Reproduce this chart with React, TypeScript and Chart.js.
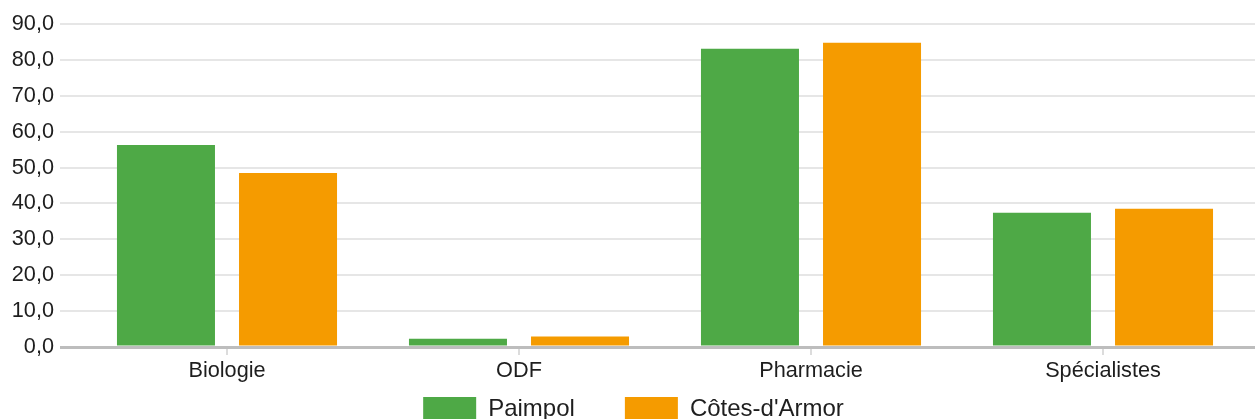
import React, { useEffect, useRef } from "react";
import { Chart, registerables } from "chart.js";

Chart.register(...registerables);

const categories = ["Biologie", "ODF", "Pharmacie", "Spécialistes"];
const seriesNames = ["Paimpol", "Côtes-d'Armor"];
const paimpolValues = [56.3, 2.3, 83.1, 37.4];
const cotesArmorValues = [48.5, 2.9, 84.8, 38.5];
const yMin = 0;
const yMax = 90;
const yStep = 10;

const GREEN = "#4ea946";
const ORANGE = "#f59b00";
const TEXT = "#1e1e1e";
const FONT = "'Liberation Sans', Arial, sans-serif";

const fmt = (v: number) => Number(v).toFixed(1).replace(".", ",");
const gridColor = (ctx: any) => (ctx.tick && ctx.tick.value === 0 ? "#bdbdbd" : "#e6e6e6");
const gridWidth = (ctx: any) => (ctx.tick && ctx.tick.value === 0 ? 3 : 2);

const X_AXIS_HEIGHT = 40;

// widen the label clipping areas of the axes after layout
const labelAreas = {
  id: "labelAreas",
  beforeDraw(chart: any) {
    const x = chart.scales.x;
    if (x) {
      x.bottom = x.top + X_AXIS_HEIGHT;
      x.height = X_AXIS_HEIGHT;
    }
    const y = chart.scales.y;
    if (y) {
      y.left = 0;
      y.width = y.right;
    }
  },
};

export default function App() {
  const ref = useRef<HTMLCanvasElement | null>(null);
  useEffect(() => {
    if (!ref.current) return;
    const chart = new Chart(ref.current, {
      type: "bar",
      data: {
        labels: categories,
        datasets: [
          { label: seriesNames[0], data: paimpolValues, backgroundColor: GREEN, borderWidth: 0 },
          { label: seriesNames[1], data: cotesArmorValues, backgroundColor: ORANGE, borderWidth: 0 },
        ],
      },
      plugins: [labelAreas],
      options: {
        responsive: false,
        animation: false,
        devicePixelRatio: 1,
        layout: { padding: { top: 24, left: 12, right: 0, bottom: 0 } },
        datasets: { bar: { categoryPercentage: 0.836, barPercentage: 0.803 } },
        plugins: {
          tooltip: { enabled: false },
          legend: {
            position: "bottom",
            labels: {
              boxWidth: 53,
              boxHeight: 24,
              padding: 50,
              color: TEXT,
              font: { family: FONT, size: 24 },
            },
          },
        },
        scales: {
          x: {
            offset: true,
            grid: {
              offset: false,
              drawOnChartArea: false,
              drawTicks: true,
              tickLength: 8,
              color: "#dcdcdc",
              lineWidth: 2,
            },
            border: { display: false },
            ticks: { color: TEXT, font: { family: FONT, size: 21.7 }, padding: 3, maxRotation: 0, autoSkip: false },
            afterFit: (scale: any) => {
              scale.height = 0;
            },
          },
          y: {
            min: yMin,
            max: yMax,
            position: "left",
            grid: { color: gridColor, lineWidth: gridWidth, tickLength: 21 },
            border: { display: false },
            ticks: {
              stepSize: yStep,
              color: TEXT,
              padding: 6,
              font: { family: FONT, size: 21.7 },
              callback: (v: any) => fmt(v),
            },
            afterFit: (scale: any) => {
              scale.width = 69;
            },
          },
          y2: {
            min: yMin,
            max: yMax,
            position: "right",
            grid: { color: gridColor, lineWidth: gridWidth, tickLength: 6, drawOnChartArea: false },
            border: { display: false },
            ticks: { stepSize: yStep, display: false },
            afterFit: (scale: any) => {
              scale.width = 6;
            },
          },
        },
      },
    } as any);
    return () => chart.destroy();
  }, []);
  return (
    <div style={{ position: "fixed", left: 0, top: 0, width: 1255, height: 419, overflow: "hidden", background: "#fff" }}>
      <canvas ref={ref} width={1255} height={431} style={{ display: "block" }} />
    </div>
  );
}
